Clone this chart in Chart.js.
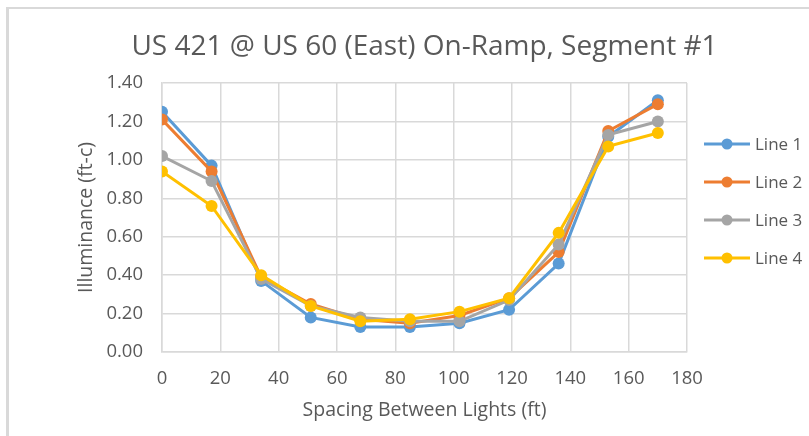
<!DOCTYPE html>
<html>
<head>
<meta charset="utf-8">
<script src="https://cdn.jsdelivr.net/npm/chart.js@4.4.1/dist/chart.umd.min.js"></script>
<style>
  html, body { margin: 0; padding: 0; background: #ffffff; }
  #wrap { position: relative; width: 809px; height: 436px; overflow: hidden; }
  #frame { position: absolute; left: 6px; top: 7px; width: 900px; height: 500px;
           border-left: 3px solid #d9d9d9; border-top: 2px solid #d9d9d9; pointer-events: none; }
  canvas { position: absolute; left: 0; top: 0; }
</style>
</head>
<body>
<div id="wrap">
  <canvas id="c" width="809" height="436"></canvas>
  <div id="frame"></div>
</div>
<script>
const chartTitle = "US 421 @ US 60 (East) On-Ramp, Segment #1";
const xTitle = "Spacing Between Lights (ft)";
const yTitle = "Illuminance (ft-c)";
const spacing = [0, 17, 34, 51, 68, 85, 102, 119, 136, 153, 170];
const seriesNames = ["Line 1", "Line 2", "Line 3", "Line 4"];
const line1 = [1.25, 0.97, 0.37, 0.18, 0.13, 0.13, 0.15, 0.22, 0.46, 1.12, 1.31];
const line2 = [1.21, 0.94, 0.39, 0.25, 0.17, 0.15, 0.19, 0.28, 0.52, 1.15, 1.29];
const line3 = [1.02, 0.89, 0.38, 0.24, 0.18, 0.16, 0.16, 0.27, 0.56, 1.13, 1.20];
const line4 = [0.94, 0.76, 0.40, 0.24, 0.16, 0.17, 0.21, 0.28, 0.62, 1.07, 1.14];
const colors = ["#5B9BD5", "#ED7D31", "#A5A5A5", "#FFC000"];
const FONT = "'Open Sans'";
const TEXT = "#595959";

const allSeries = [line1, line2, line3, line4];
const datasets = allSeries.map((vals, i) => ({
  label: seriesNames[i],
  data: vals.map((v, j) => ({ x: spacing[j], y: v })),
  borderColor: colors[i],
  backgroundColor: colors[i],
  pointBackgroundColor: colors[i],
  pointBorderColor: colors[i],
  borderWidth: 3,
  pointRadius: 6,
  pointBorderWidth: 0,
  tension: 0,
  order: allSeries.length - i
}));

const extras = {
  id: "extras",
  afterDraw(chart) {
    const ctx = chart.ctx;
    const a = chart.chartArea;
    ctx.save();
    // title centered over plot area
    ctx.fillStyle = TEXT;
    ctx.font = "28px " + FONT;
    ctx.textAlign = "center";
    ctx.textBaseline = "middle";
    ctx.fillText(chartTitle, (a.left + a.right) / 2, 47);
    // legend
    ctx.font = "17px " + FONT;
    ctx.textAlign = "left";
    chart.data.datasets.forEach((ds, i) => {
      const y = 144 + i * 38;
      ctx.strokeStyle = ds.borderColor;
      ctx.lineWidth = 3;
      ctx.beginPath();
      ctx.moveTo(704, y);
      ctx.lineTo(750, y);
      ctx.stroke();
      ctx.fillStyle = ds.borderColor;
      ctx.beginPath();
      ctx.arc(727, y, 5.5, 0, Math.PI * 2);
      ctx.fill();
      ctx.fillStyle = TEXT;
      ctx.fillText(ds.label, 755, y + 1);
    });
    ctx.restore();
  }
};

new Chart(document.getElementById("c"), {
  type: "line",
  data: { datasets },
  plugins: [extras],
  options: {
    responsive: false,
    animation: false,
    layout: { padding: { left: 10, right: 122, top: 83, bottom: 0 } },
    plugins: { legend: { display: false }, title: { display: false }, tooltip: { enabled: false } },
    scales: {
      x: {
        type: "linear",
        min: 0, max: 180,
        afterFit(scale) { scale.height = 84; },
        ticks: { stepSize: 20, color: TEXT, font: { family: FONT, size: 18.5 }, padding: 16 },
        grid: { color: "#d9d9d9", lineWidth: 1.5, drawTicks: false },
        border: { color: "#d9d9d9", width: 1.5 },
        title: { display: true, text: xTitle, color: TEXT, font: { family: FONT, size: 19.5 }, padding: { top: 0, bottom: 14 } }
      },
      y: {
        min: 0, max: 1.4,
        afterFit(scale) { scale.width = 152; },
        ticks: { stepSize: 0.2, color: TEXT, font: { family: FONT, size: 18.5 }, padding: 19,
                 callback: (v) => Number(v).toFixed(2) },
        grid: { color: "#d9d9d9", lineWidth: 1.5, drawTicks: false },
        border: { color: "#d9d9d9", width: 1.5 },
        title: { display: true, text: yTitle, color: TEXT, font: { family: FONT, size: 19.5 }, padding: { top: 65, bottom: 0 } }
      }
    }
  }
});
</script>
</body>
</html>
